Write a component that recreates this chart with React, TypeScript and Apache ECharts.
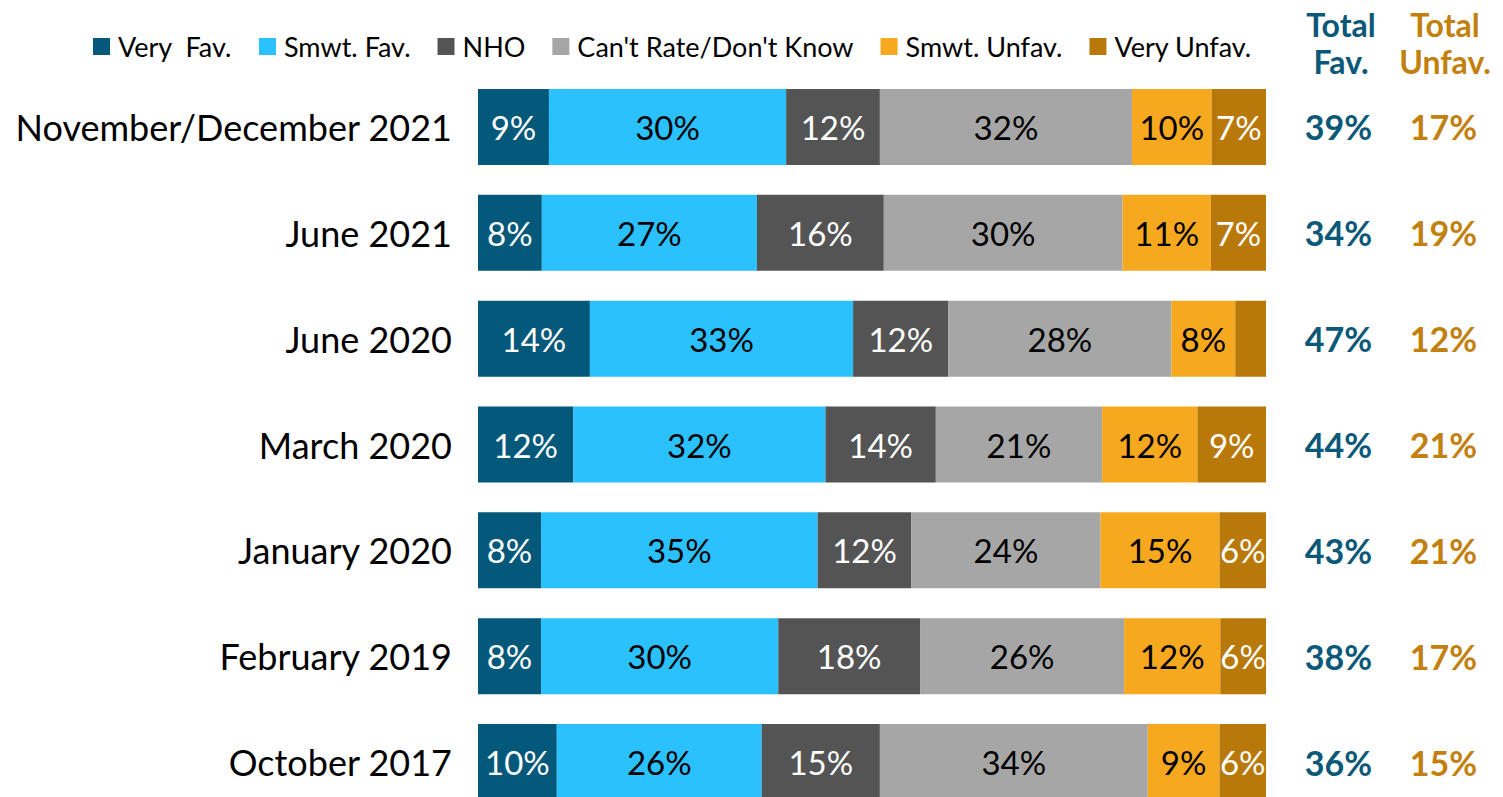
import React, { useEffect, useRef } from "react";
import * as echarts from "echarts";

const categories = [
  "November/December 2021",
  "June 2021",
  "June 2020",
  "March 2020",
  "January 2020",
  "February 2019",
  "October 2017",
];

const seriesNames = [
  "Very  Fav.",
  "Smwt. Fav.",
  "NHO",
  "Can't Rate/Don't Know",
  "Smwt. Unfav.",
  "Very Unfav.",
];

const veryFav = [9, 8.1, 14.2, 12.1, 8, 8, 10];
const smwtFav = [30.1, 27.3, 33.4, 32, 35.1, 30.1, 26];
const nho = [11.9, 16.1, 12.1, 14, 11.9, 18, 15];
const cantRate = [32, 30.3, 28.3, 21.1, 24, 25.9, 34];
const smwtUnfav = [10.1, 11.2, 8.1, 12.1, 15.1, 12.2, 9.1];
const veryUnfav = [6.9, 7.0, 3.9, 8.7, 5.9, 5.8, 5.9];

const totalFav = [39, 34, 47, 44, 43, 38, 36];
const totalUnfav = [17, 19, 12, 21, 21, 17, 15];

const headerTop = ["Total", "Total"];
const headerBottom = ["Fav.", "Unfav."];

const colors = ["#04587A", "#2BC1FE", "#545454", "#A6A6A6", "#F6A81F", "#B8790A"];
const labelColors = ["#ffffff", "#000000", "#ffffff", "#000000", "#000000", "#ffffff"];
const favColor = "#0B5878";
const unfavColor = "#C2800E";
const FONT = "Lato, 'Open Sans', sans-serif";

export default function App() {
  const ref = useRef<HTMLDivElement>(null);
  useEffect(() => {
    if (!ref.current) return;
    const chart = echarts.init(ref.current, null, { renderer: "svg" });
    const values = [veryFav, smwtFav, nho, cantRate, smwtUnfav, veryUnfav];
    const headerColors = [favColor, unfavColor];
    const headerX = [1341, 1445];
    const headerGraphics: any[] = [];
    headerX.forEach((x, i) => {
      headerGraphics.push({
        type: "text",
        x,
        y: 24,
        style: {
          text: headerTop[i],
          align: "center",
          verticalAlign: "middle",
          fontSize: 32,
          lineHeight: 34,
          fontWeight: "bold",
          fill: headerColors[i],
          fontFamily: FONT,
        },
      });
      headerGraphics.push({
        type: "text",
        x,
        y: 61,
        style: {
          text: headerBottom[i],
          align: "center",
          verticalAlign: "middle",
          fontSize: 32,
          lineHeight: 34,
          fontWeight: "bold",
          fill: headerColors[i],
          fontFamily: FONT,
        },
      });
    });
    chart.setOption({
      animation: false,
      textStyle: { fontFamily: FONT },
      color: colors,
      legend: {
        left: 88,
        top: 28,
        itemWidth: 17,
        itemHeight: 17,
        itemGap: 27,
        icon: "rect",
        data: seriesNames,
        textStyle: { fontSize: 27, color: "#000", fontFamily: FONT, padding: [0, 0, 0, 3] },
      },
      grid: { left: 478, width: 788, top: 74, height: 741, containLabel: false },
      xAxis: { type: "value", min: 0, max: 100, show: false },
      yAxis: [
        {
          type: "category",
          data: categories,
          inverse: true,
          axisLine: { show: false },
          axisTick: { show: false },
          axisLabel: { fontSize: 36, color: "#000", margin: 26, fontFamily: FONT },
        },
        {
          type: "category",
          data: categories,
          inverse: true,
          position: "right",
          axisLine: { show: false },
          axisTick: { show: false },
          axisLabel: {
            margin: 20,
            align: "left",
            formatter: (_v: string, i: number) => `{f|${totalFav[i]}%}{u|${totalUnfav[i]}%}`,
            rich: {
              f: { width: 105, align: "center", fontSize: 34, fontWeight: "bold", color: favColor, fontFamily: FONT },
              u: { width: 105, align: "center", fontSize: 34, fontWeight: "bold", color: unfavColor, fontFamily: FONT },
            },
          },
        },
      ],
      graphic: headerGraphics,
      series: seriesNames.map((name, si) => ({
        name,
        type: "bar",
        stack: "total",
        barWidth: 76,
        data: values[si],
        label: {
          show: true,
          position: "inside",
          fontSize: 33,
          color: labelColors[si],
          fontFamily: FONT,
          formatter: (p: any) => (p.value < 5 ? "" : `${Math.round(p.value)}%`),
        },
        emphasis: { disabled: true },
      })),
    });
    return () => chart.dispose();
  }, []);
  return (
    <div
      ref={ref}
      style={{ position: "fixed", left: 0, top: 0, width: 1503, height: 830, background: "#fff" }}
    />
  );
}
